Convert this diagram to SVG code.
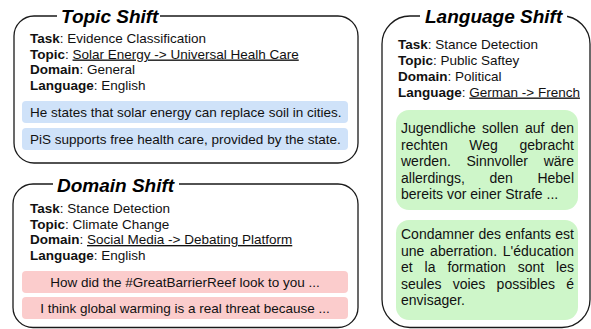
<svg xmlns="http://www.w3.org/2000/svg" width="591" height="329" viewBox="0 0 591 329">
<style>
  .frame { fill: #ffffff; stroke: #1a1a1a; stroke-width: 1.3; }
  .title { font-family: "Liberation Sans", Arial, sans-serif; font-size: 19px; font-weight: bold; font-style: italic; fill: #000; }
  .gap { fill: #ffffff; }
  .meta { font-family: "Liberation Sans", Arial, sans-serif; font-size: 13.5px; fill: #111; }
  .b { font-weight: bold; }
  .u { text-decoration: underline; }
  .body { font-family: "Liberation Sans", Arial, sans-serif; font-size: 13.5px; fill: #111; }
  .de { font-family: "Liberation Sans", Arial, sans-serif; font-size: 14px; fill: #111; }
  .blue { fill: #cfe2f9; }
  .red { fill: #fbcccc; }
  .green { fill: #cef6c9; }
</style>
<rect width="591" height="329" fill="#ffffff"/>

<g id="topic-shift">
  <rect class="frame" x="14" y="16" width="344" height="147" rx="20" ry="20"/>
  <rect class="gap" x="57" y="8" width="103" height="16"/>
  <text class="title" x="61" y="23">Topic Shift</text>
  <text class="meta" x="30" y="43"><tspan class="b">Task</tspan>: Evidence Classification</text>
  <text class="meta" x="30" y="58.5"><tspan class="b">Topic</tspan>: <tspan class="u">Solar Energy -&gt; Universal Healh Care</tspan></text>
  <text class="meta" x="30" y="74"><tspan class="b">Domain</tspan>: General</text>
  <text class="meta" x="30" y="89.5"><tspan class="b">Language</tspan>: English</text>
  <rect class="blue" x="22" y="101" width="326" height="22" rx="4"/>
  <text class="body" x="30" y="116.5">He states that solar energy can replace soil in cities.</text>
  <rect class="blue" x="22" y="128" width="326" height="22" rx="4"/>
  <text class="body" x="30" y="143.5">PiS supports free health care, provided by the state.</text>
</g>

<g id="domain-shift">
  <rect class="frame" x="13" y="184" width="345" height="143.5" rx="20" ry="20"/>
  <rect class="gap" x="53" y="176" width="126" height="16"/>
  <text class="title" x="57" y="192">Domain Shift</text>
  <text class="meta" x="30" y="213"><tspan class="b">Task</tspan>: Stance Detection</text>
  <text class="meta" x="30" y="228.5"><tspan class="b">Topic</tspan>: Climate Change</text>
  <text class="meta" x="30" y="244"><tspan class="b">Domain</tspan>: <tspan class="u">Social Media -&gt; Debating Platform</tspan></text>
  <text class="meta" x="30" y="259.5"><tspan class="b">Language</tspan>: English</text>
  <rect class="red" x="22" y="271" width="326" height="22" rx="4"/>
  <text class="body" x="185" y="286.5" text-anchor="middle">How did the #GreatBarrierReef look to you ...</text>
  <rect class="red" x="22" y="297" width="326" height="22" rx="4"/>
  <text class="body" x="185" y="312.5" text-anchor="middle">I think global warming is a real threat because ...</text>
</g>

<g id="language-shift">
  <rect class="frame" x="382" y="16" width="208" height="311.5" rx="28" ry="28"/>
  <rect class="gap" x="420" y="6" width="147" height="16"/>
  <text class="title" x="425" y="23">Language Shift</text>
  <text class="meta" x="398" y="48.5"><tspan class="b">Task</tspan>: Stance Detection</text>
  <text class="meta" x="398" y="64.5"><tspan class="b">Topic</tspan>: Public Saftey</text>
  <text class="meta" x="398" y="80.5"><tspan class="b">Domain</tspan>: Political</text>
  <text class="meta" x="398" y="96.5"><tspan class="b">Language</tspan>: <tspan class="u">German -&gt; French</tspan></text>

  <rect class="green" x="396" y="110" width="182" height="100" rx="13"/>
  <text class="de" y="133"><tspan x="401">Jugendliche</tspan><tspan x="482">sollen</tspan><tspan x="524.9">auf</tspan><tspan x="574" text-anchor="end">den</tspan></text>
  <text class="de" y="149.5"><tspan x="401">rechten</tspan><tspan x="469.2">Weg</tspan><tspan x="574" text-anchor="end">gebracht</tspan></text>
  <text class="de" y="166"><tspan x="401">werden.</tspan><tspan x="466.5">Sinnvoller</tspan><tspan x="574" text-anchor="end">wäre</tspan></text>
  <text class="de" y="182.5"><tspan x="401">allerdings,</tspan><tspan x="489.4">den</tspan><tspan x="574" text-anchor="end">Hebel</tspan></text>
  <text class="de" x="401" y="199">bereits vor einer Strafe ...</text>

  <rect class="green" x="396" y="220" width="182" height="100" rx="13"/>
  <text class="de" y="239"><tspan x="401">Condamner</tspan><tspan x="478.4">des</tspan><tspan x="505.2">enfants</tspan><tspan x="574" text-anchor="end">est</tspan></text>
  <text class="de" y="255.5"><tspan x="401">une</tspan><tspan x="430.1">aberration.</tspan><tspan x="574" text-anchor="end">L'éducation</tspan></text>
  <text class="de" y="272"><tspan x="401">et</tspan><tspan x="424.6">la</tspan><tspan x="447.4">formation</tspan><tspan x="517.7">sont</tspan><tspan x="574" text-anchor="end">les</tspan></text>
  <text class="de" y="288.5"><tspan x="401">seules</tspan><tspan x="452.7">voies</tspan><tspan x="496.6">possibles</tspan><tspan x="574" text-anchor="end">é</tspan></text>
  <text class="de" x="401" y="305">envisager.</text>
</g>
</svg>
